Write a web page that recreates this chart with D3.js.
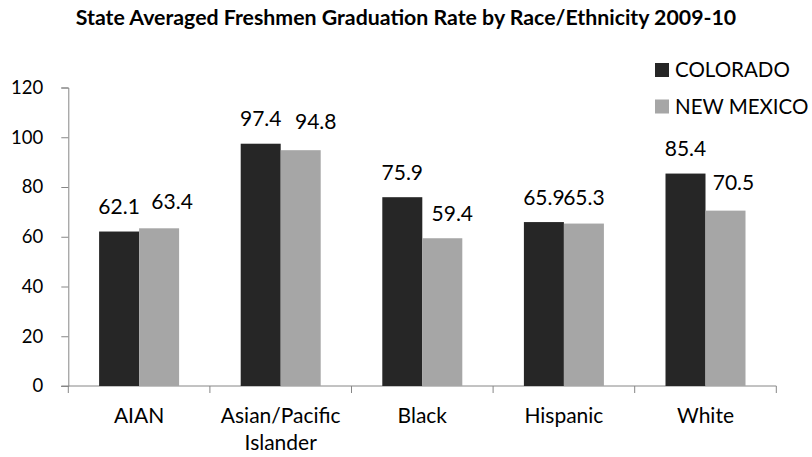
<!DOCTYPE html>
<html>
<head>
<meta charset="utf-8">
<script src="https://cdn.jsdelivr.net/npm/d3@7"></script>
<style>
  html, body { margin: 0; padding: 0; background: #fff; }
  svg { display: block; font-family: "Lato", "Open Sans", sans-serif; }
</style>
</head>
<body>
<svg id="chart" width="812" height="457"></svg>
<script>
const title = "State Averaged Freshmen Graduation Rate by Race/Ethnicity 2009-10";
const categories = ["AIAN", "Asian/Pacific Islander", "Black", "Hispanic", "White"];
const categoryLines = [["AIAN"], ["Asian/Pacific", "Islander"], ["Black"], ["Hispanic"], ["White"]];
const seriesNames = ["COLORADO", "NEW MEXICO"];
const colorado = [62.1, 97.4, 75.9, 65.9, 85.4];
const newMexico = [63.4, 94.8, 59.4, 65.3, 70.5];
const yTicks = [0, 20, 40, 60, 80, 100, 120];
const colors = ["#262626", "#a6a6a6"];

(function () {
// label nudges (as placed in the original chart): [series][category] -> [dx, gap above bar]
const labelNudge = [
  [[0, 17.5], [0, 17.5], [0, 17.5], [0, 17.5], [0, 18]],
  [[13, 19], [15, 21], [10, 17.5], [0, 19], [8, 20.5]]
];

const svg = d3.select("#chart");
const W = 812;
const pLeft = 68.3, pRight = 776.3, pTop = 87.5, pBottom = 386;
const axisColor = "#868686";

const x = d3.scaleBand().domain(categories).range([pLeft, pRight]).padding(0);
const y = d3.scaleLinear().domain([0, 120]).range([pBottom, pTop]);
const barW = 40;
const sub = d3.scaleBand().domain(seriesNames).range([0, barW * 2]).padding(0);

// Title
svg.append("text")
  .attr("x", W / 2).attr("y", 25)
  .attr("text-anchor", "middle")
  .attr("font-weight", "bold")
  .attr("font-size", 21.3)
  .attr("fill", "#000")
  .text(title);

// Y axis
const yAxis = d3.axisLeft(y).tickValues(yTicks).tickSize(7).tickPadding(18);
const gy = svg.append("g").attr("transform", `translate(${pLeft},0)`).call(yAxis);
gy.select(".domain").attr("stroke", axisColor);
gy.selectAll(".tick line").attr("stroke", axisColor);
gy.selectAll(".tick text").attr("font-size", 18.5).attr("fill", "#000")
  .attr("font-family", "Lato, sans-serif");

// X axis
const xAxis = d3.axisBottom(x).tickSize(0).tickFormat("");
const gx = svg.append("g").attr("transform", `translate(0,${pBottom})`).call(xAxis);
gx.select(".domain").attr("stroke", axisColor).attr("d", `M${pLeft - 7},0H${pRight}`);
const bounds = categories.map(c => x(c)).concat([pRight]);
gx.selectAll("line.bound").data(bounds).enter().append("line")
  .attr("class", "bound")
  .attr("x1", d => d).attr("x2", d => d)
  .attr("y1", 0).attr("y2", 7)
  .attr("stroke", axisColor);

// Category labels
categories.forEach((c, i) => {
  const cx = x(c) + x.bandwidth() / 2;
  const t = svg.append("text")
    .attr("x", cx)
    .attr("y", 423)
    .attr("text-anchor", "middle")
    .attr("font-size", 21)
    .attr("fill", "#000");
  categoryLines[i].forEach((ln, j) => {
    t.append("tspan").attr("x", cx).attr("dy", j === 0 ? 0 : 27).text(ln);
  });
});

// Bars
const data = categories.map((c, i) => ({ c, i, vals: [colorado[i], newMexico[i]] }));
const groups = svg.selectAll("g.grp").data(data).enter().append("g")
  .attr("class", "grp")
  .attr("transform", d => `translate(${x(d.c) + x.bandwidth() / 2 - barW},0)`);

groups.selectAll("rect").data(d => d.vals.map((v, k) => ({ k, v, i: d.i }))).enter().append("rect")
  .attr("x", d => sub(seriesNames[d.k]))
  .attr("y", d => y(d.v))
  .attr("width", sub.bandwidth())
  .attr("height", d => pBottom - y(d.v))
  .attr("fill", d => colors[d.k]);

groups.selectAll("text.val").data(d => d.vals.map((v, k) => ({ k, v, i: d.i }))).enter().append("text")
  .attr("class", "val")
  .attr("x", d => sub(seriesNames[d.k]) + sub.bandwidth() / 2 + labelNudge[d.k][d.i][0])
  .attr("y", d => y(d.v) - labelNudge[d.k][d.i][1])
  .attr("text-anchor", "middle")
  .attr("font-size", 21)
  .attr("fill", "#000")
  .text(d => d.v.toFixed(1));

// Legend
const leg = svg.append("g");
seriesNames.forEach((s, i) => {
  const yy = 63 + i * 36.5;
  leg.append("rect").attr("x", 655).attr("y", yy).attr("width", 14).attr("height", 14).attr("fill", colors[i]);
  leg.append("text").attr("x", 675).attr("y", yy + 14).attr("font-size", 20.5).attr("fill", "#000").text(s);
});
})();
</script>
</body>
</html>
